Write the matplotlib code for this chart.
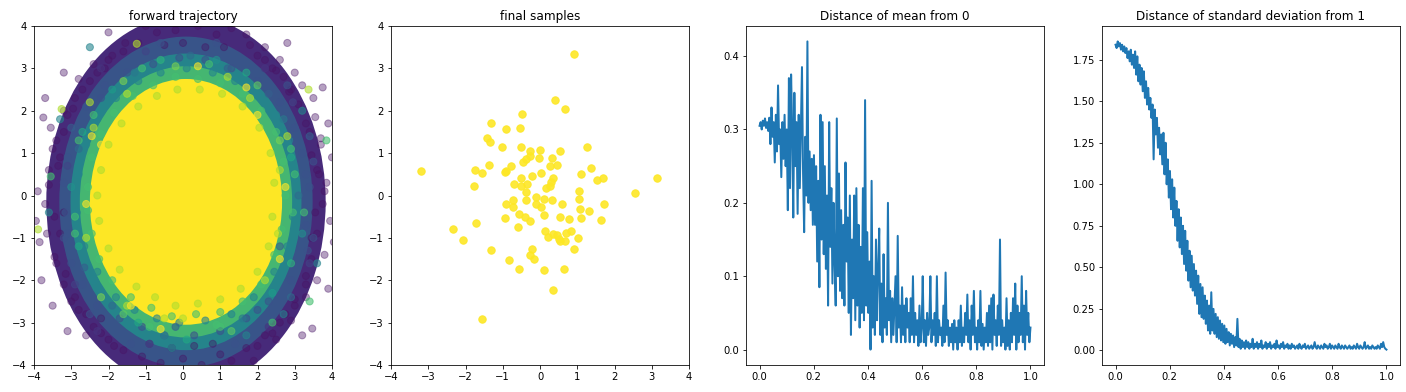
import numpy as np
import matplotlib
matplotlib.use('Agg')
import matplotlib.pyplot as plt
from matplotlib.patches import Ellipse

# ---- forward trajectory ----
# the cloud is too dense to read point by point: its solid part is read as
# nested bands, one per stage of the diffusion (time fraction -> viridis colour)
cloud_center = (0.08, -0.15)
band_t = [0.12, 0.30, 0.50, 0.72, 1.00]
band_rx = [3.75, 3.40, 3.10, 2.85, 2.58]
band_ry = [4.40, 3.90, 3.50, 3.20, 2.90]

# individual circles visible around the edges of each band
pts_purple_x = [3.85, 3.95, 3.70, 4.00, 3.80, 3.60, 3.90, 3.50, 3.75, 3.60, 3.45, 3.30, 3.55, 4.05, 3.40,
                3.00, 2.60, 2.20, 1.70, 2.90, 1.30, 2.40, 3.20, 2.00, 2.70,
                0.90, 0.40, -0.20, -0.70, -1.20, 0.60, 0.00, -0.50, 1.10, -1.00,
                -1.60, -2.10, -2.50, -2.90, -3.10, -1.90, -2.40, -2.80, -3.20,
                -3.40, -3.60, -3.70, -3.65, -3.40, -3.90, -3.85, -3.30, -3.55, -3.95, -3.20,
                -3.20, -2.80, -2.40, -2.00, -1.60, -3.00, -2.60, -2.20,
                -1.10, -0.60, 0.00, 0.50, 1.00, -0.30, 0.30, 0.80, -0.90, 1.30,
                1.70, 2.20, 2.60, 3.00, 3.30, 1.90, 2.50, 2.90,
                -2.00, 2.80, -3.70, 3.90, -3.80, -3.10, 3.75, -3.50, 3.20, -3.20, -3.75, 3.47,
                3.55, 3.80, 3.65, 3.45, 3.70, 3.30, 3.10, 2.85, 2.50, 2.20, 1.80,
                -3.45, -3.60, -3.35, -3.50, -3.20, -2.95, -2.70, -2.30, -2.00, -1.55,
                3.60, 3.45, 3.30, 3.00, 2.75, 2.40, 2.00,
                -3.30, -3.45, -3.15, -2.90, -2.60, -2.20, -1.85]
pts_purple_y = [0.30, -0.60, 1.20, 0.90, -1.40, -2.00, 1.70, 2.30, -0.20, 0.60, -1.00, -2.40, 1.85, -1.10, 1.50,
                2.90, 3.20, 3.50, 3.80, 2.50, 3.95, 3.00, 2.60, 3.30, 2.80,
                3.80, 4.00, 3.90, 3.85, 3.60, 3.50, 3.60, 3.55, 3.50, 4.00,
                3.40, 3.00, 2.70, 2.30, 1.90, 3.30, 3.10, 2.75, 2.00,
                1.30, 0.60, -0.20, -0.90, -1.60, 0.10, -1.10, 0.90, 1.60, -0.60, -0.40,
                -2.10, -2.70, -3.10, -3.40, -3.65, -2.50, -3.30, -2.90,
                -3.80, -3.95, -3.85, -4.00, -3.75, -3.60, -3.55, -3.50, -3.50, -3.90,
                -3.60, -3.30, -3.00, -2.60, -2.10, -3.90, -3.40, -2.95,
                3.85, 3.60, 2.30, -2.20, -2.00, -3.20, 2.55, -2.60, -3.30, 2.90, 1.84, -3.14,
                -0.40, 0.10, 0.50, 0.95, 1.35, 1.70, 2.15, 2.45, 2.95, 3.20, 3.55,
                -0.50, 0.25, 0.70, 1.10, 1.50, 2.05, 2.50, 2.90, 3.20, 3.60,
                -0.90, -1.50, -1.90, -2.45, -2.80, -3.25, -3.55,
                -0.90, -1.45, -1.85, -2.40, -2.80, -3.25, -3.55]

pts_blue_x = [3.40, 3.30, 3.20, 3.35, 3.00, 2.90, 2.60, 2.30, 2.00, 1.70, 1.30, 1.00, 0.60,
              0.30, -0.10, -0.50, -0.80, -1.10, -1.50, -1.70, -2.10, -2.30, -2.60, -2.70,
              -2.90, -3.00, -3.10, -3.20, -3.20, -3.15, 3.50, 3.50, 2.80, -2.50, 0.90, -0.60,
              1.40, -1.40]
pts_blue_y = [0.20, -0.70, 1.00, -1.30, 1.60, -2.00, 2.20, -2.50, 2.70, -2.90, 3.00, -3.20, 3.20,
              -3.30, 3.25, -3.30, 3.10, -3.10, 2.90, -2.90, 2.60, -2.60, 2.10, -2.10,
              1.50, -1.60, 0.90, -1.00, 0.30, -0.40, 0.80, -1.00, 2.60, -2.80, 3.60, 3.60,
              -3.50, -3.50]

pts_teal_x = [3.00, 2.95, 2.85, 2.80, 2.50, 2.45, 2.00, 1.90, 1.40, 1.30, 0.80, 0.60,
              0.10, -0.10, -0.60, -0.70, -1.20, -1.30, -1.80, -1.80, -2.30, -2.30, -2.60, -2.65,
              -2.80, -2.85, 3.20, -3.30, -3.60, -2.50, 1.70, -0.30, 3.60, 2.70]
pts_teal_y = [0.40, -0.50, 1.30, -1.20, 1.90, -1.80, 2.40, -2.40, 2.70, -2.80, 2.90, -2.95,
              3.00, -3.00, 2.90, -2.90, 2.70, -2.70, 2.30, -2.40, 1.80, -1.80, 1.20, -1.20,
              0.50, -0.40, 2.00, 1.80, -0.40, 3.50, -3.30, -3.60, -1.60, -2.80]

# mixed-stage circles inside the halo (each with its own time fraction)
pts_mix_x = [3.10, 2.90, 3.20, 2.70, 2.90, 2.30, 2.40, 1.70, 1.60, 0.90, 1.00, 0.20, 0.10,
             -0.60, -0.50, -1.30, -1.20, -1.90, -1.90, -2.40, -2.40, -2.80, -2.80, -3.00, -2.90,
             3.30, 3.25, 2.60, 2.60, 2.00, 2.00, 1.20, 1.30, -0.20, -0.20, -1.00, -0.90,
             -1.60, -1.60, -2.20, -2.20, -2.70, -2.65, -3.10, -3.10, 3.40, 3.40, 2.95, 2.90,
             -3.00, -2.90, 2.20, -2.20, 2.30, -2.30]
pts_mix_y = [0.00, 0.90, -0.90, 1.80, -1.60, 2.40, -2.30, 2.90, -2.90, 3.20, -3.10, 3.30, -3.40,
             3.20, -3.30, 2.90, -3.00, 2.50, -2.60, 1.90, -2.00, 1.10, -1.20, 0.20, -0.50,
             0.50, -0.40, 1.30, -1.20, 2.60, -2.70, 3.00, -3.20, 3.05, -3.10, 3.40, -3.50,
             2.70, -2.80, 2.30, -2.40, 1.50, -1.70, 0.70, -0.90, 1.40, -1.60, 2.20, -2.40,
             1.60, -2.10, 3.00, 3.00, -3.10, -3.20]
pts_mix_t = [0.35, 0.60, 0.50, 0.40, 0.65, 0.30, 0.55, 0.60, 0.40, 0.50, 0.70, 0.35, 0.60,
             0.65, 0.45, 0.40, 0.60, 0.55, 0.35, 0.70, 0.45, 0.35, 0.60, 0.50, 0.70,
             0.25, 0.70, 0.80, 0.30, 0.75, 0.25, 0.30, 0.75, 0.80, 0.30, 0.20, 0.20,
             0.80, 0.75, 0.25, 0.80, 0.60, 0.30, 0.20, 0.25, 0.30, 0.20, 0.20, 0.35,
             0.30, 0.20, 0.15, 0.15, 0.15, 0.15]

pts_green_x = [2.75, 2.70, 2.65, 2.50, 2.45, 2.10, 2.10, 1.60, 1.60, 1.00, 1.00, 0.40, 0.35,
               -0.20, -0.30, -0.80, -0.85, -1.35, -1.40, -1.85, -1.90, -2.20, -2.25, -2.45,
               -2.45, -2.55, -2.55, 3.00, 2.95, 2.90, -2.80, -2.90, -1.10, 0.70, -0.90, 0.90,
               3.40, 2.40, -3.55, 3.85]
pts_green_y = [0.00, 0.80, -0.80, 1.50, -1.40, 2.00, -2.10, 2.40, -2.50, 2.65, -2.75, 2.75, -2.80,
               2.80, -2.85, 2.60, -2.65, 2.35, -2.40, 1.95, -2.00, 1.45, -1.50, 0.90,
               -0.90, 0.20, -0.35, 0.50, -0.40, 1.10, 1.30, -0.90, 3.00, 3.10, -3.10, -3.05,
               -2.50, -3.00, 0.45, 1.30]

pts_lime_x = [2.45, 2.40, 2.35, 2.30, 2.05, 2.00, 1.60, 1.55, 1.05, 1.00, 0.45, 0.40,
              -0.15, -0.20, -0.70, -0.75, -1.20, -1.25, -1.65, -1.70, -2.00, -2.00, -2.20, -2.25,
              -2.30, 2.60, 2.55, 1.80, -1.50, 0.00, -2.60, -1.50, 2.20, -2.40, 1.20, -0.50, 2.80,
              -1.24, -3.26, -3.89, 3.37, -2.50]
pts_lime_y = [0.30, -0.50, 1.00, -1.20, 1.60, -1.80, 2.10, -2.20, 2.40, -2.45, 2.50, -2.55,
              2.50, -2.60, 2.35, -2.40, 2.10, -2.15, 1.70, -1.75, 1.20, -1.25, 0.60, -0.60,
              0.00, 0.60, -0.90, 2.30, 2.40, -2.90, -1.00, -2.60, -2.00, 1.60, 2.80, -2.90, 1.40,
              3.58, 2.04, -0.80, 2.50, 2.20]

pts_yellow_x = [2.30, 2.20, 2.20, 1.95, 1.90, 1.50, 1.45, 0.90, 0.90, 0.30, 0.20, -0.40,
                -0.40, -0.90, -1.00, -1.45, -1.50, -1.85, -1.85, -2.05, -2.05, 2.45, 2.00,
                -1.90, -2.20, 0.60, 2.75, -2.60, 1.70, -1.40, 2.60, -2.45, 0.40, -0.60]
pts_yellow_y = [0.00, 0.70, -0.80, 1.30, -1.50, 1.80, -2.00, 2.20, -2.30, 2.35, -2.40, 2.30,
                -2.40, 2.05, -2.10, 1.60, -1.70, 1.05, -1.10, 0.40, -0.45, -0.30, 1.90,
                -1.80, 1.20, -2.70, 0.20, -0.20, 2.55, -2.60, -1.50, 1.40, 3.05, -3.15]

# ---- final samples ----
final_x = [0.92, 0.40, 0.67, -0.49, -1.32, -0.91, -0.55, -1.41, -1.35, -1.02, -0.52, -0.27,
           0.01, 1.27, 0.53, -0.28, -0.04, 0.31, -0.46, -0.37, 0.27, 0.45, -1.38, -0.79,
           1.38, -1.74, -1.56, -0.94, -0.90, -3.20, 0.02, 1.11, -0.52, -0.21, 0.36, 0.29,
           1.52, 1.69, 3.14, -0.70, -0.34, -1.77, -0.50, 0.17, 0.27, -0.38, 1.06, 2.54,
           -0.10, -0.37, 0.10, 0.31, 1.05, -0.73, -0.91, -0.73, -0.11, 0.04, 0.60, 1.71,
           1.08, 1.32, 0.10, -0.57, -0.40, -0.94, 0.55, 0.79, 1.11, 1.63, -0.26, -1.71,
           -0.58, -2.33, 0.14, 0.84, 0.71, 0.36, 0.46, 0.21, 0.51, 1.02, -2.07, 0.68,
           0.54, -0.22, -1.32, 0.92, -0.26, -0.17, -0.82, -0.57, 0.65, 0.10, 0.34, -1.56]
final_y = [3.35, 2.26, 2.05, 1.92, 1.71, 1.56, 1.59, 1.36, 1.27, 1.15, 1.15, 1.05,
           1.08, 1.15, 1.04, 0.93, 0.89, 0.89, 0.80, 0.86, 0.70, 0.73, 0.72, 0.70,
           0.65, 0.59, 0.52, 0.55, 0.57, 0.57, 0.52, 0.50, 0.42, 0.46, 0.42, 0.31,
           0.36, 0.42, 0.42, 0.28, 0.28, 0.22, 0.22, 0.18, 0.22, 0.09, 0.10, 0.06,
           -0.03, -0.10, -0.09, -0.10, -0.08, -0.11, -0.20, -0.28, -0.20, -0.27, -0.20, -0.20,
           -0.31, -0.36, -0.46, -0.44, -0.50, -0.54, -0.50, -0.55, -0.54, -0.57, -0.61, -0.64,
           -0.75, -0.80, -0.83, -0.83, -0.88, -0.90, -0.94, -0.97, -1.02, -1.01, -1.05, -1.08,
           -1.07, -1.27, -1.29, -1.27, -1.41, -1.50, -1.52, -1.73, -1.73, -1.75, -2.23, -2.92]

# ---- distance of mean from 0 ----
mean_dist = [0.305, 0.310, 0.300, 0.312, 0.305, 0.315, 0.302, 0.310, 0.298, 0.316,
             0.280, 0.330, 0.290, 0.310, 0.255, 0.320, 0.270, 0.360, 0.280, 0.300,
             0.235, 0.310, 0.260, 0.320, 0.250, 0.300, 0.190, 0.370, 0.220, 0.375,
             0.300, 0.180, 0.350, 0.250, 0.310, 0.185, 0.320, 0.220, 0.300, 0.385,
             0.240, 0.160, 0.290, 0.210, 0.420, 0.200, 0.270, 0.190, 0.260, 0.170,
             0.265, 0.170, 0.250, 0.120, 0.230, 0.085, 0.320, 0.150, 0.310, 0.130,
             0.250, 0.110, 0.210, 0.060, 0.310, 0.140, 0.220, 0.090, 0.200, 0.120,
             0.060, 0.315, 0.100, 0.240, 0.080, 0.190, 0.070, 0.170, 0.060, 0.255,
             0.120, 0.180, 0.050, 0.210, 0.020, 0.150, 0.070, 0.210, 0.040, 0.220,
             0.060, 0.170, 0.030, 0.140, 0.050, 0.220, 0.040, 0.340, 0.060, 0.160,
             0.050, 0.120, 0.000, 0.230, 0.030, 0.100, 0.020, 0.150, 0.040, 0.110,
             0.165, 0.020, 0.090, 0.010, 0.130, 0.030, 0.070, 0.020, 0.200, 0.040,
             0.080, 0.010, 0.070, 0.020, 0.060, 0.100, 0.010, 0.155, 0.030, 0.060,
             0.010, 0.085, 0.020, 0.060, 0.010, 0.070, 0.030, 0.050, 0.010, 0.070,
             0.020, 0.100, 0.010, 0.050, 0.020, 0.040, 0.005, 0.060, 0.010, 0.030,
             0.100, 0.010, 0.040, 0.005, 0.050, 0.020, 0.030, 0.100, 0.010, 0.040,
             0.020, 0.050, 0.005, 0.100, 0.010, 0.040, 0.020, 0.030, 0.005, 0.060,
             0.010, 0.105, 0.020, 0.040, 0.005, 0.030, 0.010, 0.035, 0.000, 0.040,
             0.010, 0.030, 0.000, 0.040, 0.010, 0.060, 0.005, 0.030, 0.010, 0.050,
             0.020, 0.075, 0.010, 0.040, 0.000, 0.060, 0.020, 0.080, 0.010, 0.030,
             0.000, 0.040, 0.010, 0.080, 0.005, 0.035, 0.000, 0.030, 0.010, 0.050,
             0.005, 0.060, 0.010, 0.070, 0.000, 0.075, 0.020, 0.040, 0.005, 0.060,
             0.020, 0.150, 0.005, 0.040, 0.010, 0.030, 0.000, 0.070, 0.005, 0.040,
             0.000, 0.050, 0.010, 0.070, 0.020, 0.090, 0.000, 0.060, 0.010, 0.050,
             0.020, 0.100, 0.010, 0.060, 0.000, 0.080, 0.020, 0.050, 0.010, 0.030]

# ---- distance of standard deviation from 1 ----
std_dist = [1.84, 1.82, 1.86, 1.83, 1.85, 1.81, 1.84, 1.80, 1.83, 1.79,
            1.82, 1.76, 1.80, 1.74, 1.81, 1.72, 1.78, 1.70, 1.80, 1.66,
            1.77, 1.62, 1.72, 1.60, 1.70, 1.56, 1.68, 1.52, 1.62, 1.48,
            1.58, 1.45, 1.52, 1.40, 1.48, 1.15, 1.45, 1.30, 1.40, 1.22,
            1.34, 1.18, 1.30, 1.12, 1.31, 1.06, 1.25, 1.00, 1.15, 0.92,
            1.08, 0.85, 1.03, 0.80, 0.98, 0.75, 0.90, 0.66, 0.85, 0.62,
            0.80, 0.58, 0.75, 0.52, 0.72, 0.48, 0.66, 0.42, 0.60, 0.38,
            0.57, 0.36, 0.52, 0.33, 0.48, 0.28, 0.45, 0.22, 0.40, 0.20,
            0.38, 0.19, 0.33, 0.16, 0.30, 0.12, 0.27, 0.10, 0.35, 0.12,
            0.25, 0.10, 0.22, 0.08, 0.20, 0.07, 0.18, 0.06, 0.16, 0.05,
            0.15, 0.04, 0.13, 0.05, 0.11, 0.03, 0.10, 0.04, 0.09, 0.02,
            0.08, 0.03, 0.19, 0.02, 0.07, 0.01, 0.06, 0.02, 0.05, 0.01,
            0.06, 0.02, 0.05, 0.01, 0.04, 0.02, 0.07, 0.01, 0.04, 0.02,
            0.05, 0.01, 0.04, 0.02, 0.06, 0.01, 0.03, 0.02, 0.05, 0.01,
            0.04, 0.02, 0.05, 0.01, 0.03, 0.02, 0.04, 0.01, 0.06, 0.02,
            0.03, 0.01, 0.04, 0.02, 0.05, 0.01, 0.03, 0.02, 0.04, 0.01,
            0.03, 0.01, 0.04, 0.02, 0.03, 0.01, 0.02, 0.03, 0.01, 0.04,
            0.02, 0.01, 0.03, 0.02, 0.04, 0.01, 0.02, 0.03, 0.01, 0.02,
            0.03, 0.01, 0.02, 0.05, 0.02, 0.01, 0.03, 0.02, 0.01, 0.03,
            0.02, 0.01, 0.04, 0.02, 0.03, 0.01, 0.02, 0.04, 0.01, 0.03,
            0.02, 0.01, 0.03, 0.02, 0.01, 0.04, 0.02, 0.01, 0.03, 0.02,
            0.01, 0.03, 0.02, 0.01, 0.02, 0.03, 0.01, 0.02, 0.01, 0.03,
            0.02, 0.01, 0.04, 0.02, 0.01, 0.03, 0.02, 0.01, 0.02, 0.05,
            0.01, 0.02, 0.03, 0.01, 0.02, 0.01, 0.03, 0.02, 0.01, 0.02,
            0.01, 0.03, 0.02, 0.01, 0.04, 0.02, 0.05, 0.02, 0.01, 0.005]

# loose circles, in time order: (x, y, time fraction(s))
traj_points = [
    (pts_purple_x, pts_purple_y, 0.05),
    (pts_blue_x, pts_blue_y, 0.25),
    (pts_teal_x, pts_teal_y, 0.45),
    (pts_mix_x, pts_mix_y, pts_mix_t),
    (pts_green_x, pts_green_y, 0.70),
    (pts_lime_x, pts_lime_y, 0.88),
    (pts_yellow_x, pts_yellow_y, 1.00),
]

DPI = 72
fig = plt.figure(figsize=(1406 / DPI, 392 / DPI), dpi=DPI)
b, h, w = 27 / 392, 339 / 392, 298 / 1406
ax1 = fig.add_axes([34 / 1406, b, w, h])
ax2 = fig.add_axes([391 / 1406, b, w, h])
ax3 = fig.add_axes([746 / 1406, b, w, h])
ax4 = fig.add_axes([1102 / 1406, b, w, h])

cmap = plt.get_cmap('viridis')
nb = len(band_t)
for i in range(nb):
    a = 1.0 if i in (0, nb - 1) else 0.8
    ax1.add_patch(Ellipse(cloud_center, 2 * band_rx[i], 2 * band_ry[i],
                          facecolor=cmap(band_t[i]), edgecolor='none', alpha=a))
for k, (xs, ys, t) in enumerate(traj_points):
    ax1.scatter(xs, ys, c=np.broadcast_to(t, len(xs)), cmap='viridis', vmin=0, vmax=1,
                s=50, alpha=0.4 if k == 0 else 0.6)
ax1.set_xlim(-4, 4)
ax1.set_ylim(-4, 4)
ax1.set_title('forward trajectory')

ax2.scatter(final_x, final_y, color='#fde725', alpha=0.9, s=55)
ax2.set_xlim(-4, 4)
ax2.set_ylim(-4, 4)
ax2.set_title('final samples')

ax3.plot(np.linspace(0, 1, len(mean_dist)), mean_dist, lw=2)
ax3.set_title('Distance of mean from 0')

ax4.plot(np.linspace(0, 1, len(std_dist)), std_dist, lw=2)
ax4.set_title('Distance of standard deviation from 1')

fig.savefig('out.png', dpi=DPI)
